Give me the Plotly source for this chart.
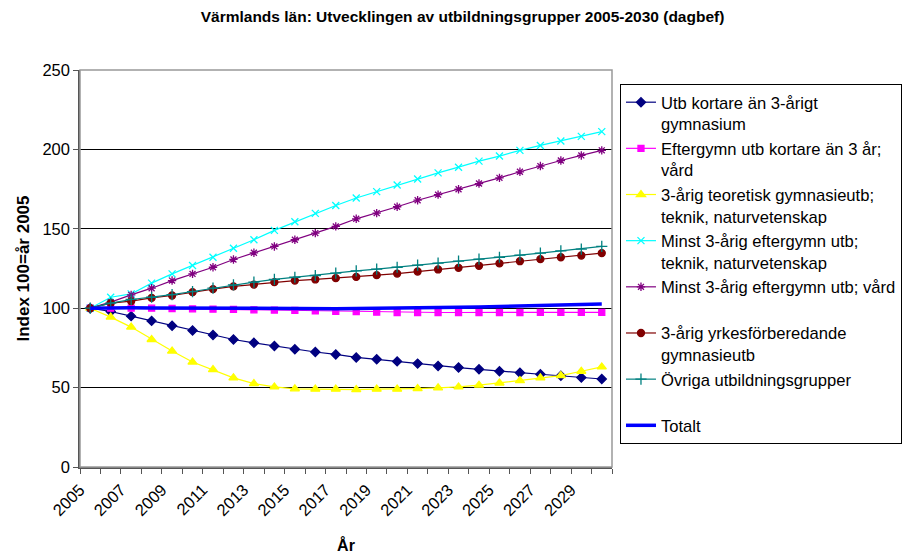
import plotly.graph_objects as go

years = list(range(2005, 2031))

utb_kort = [100, 97.9, 95, 92, 88.9, 86, 83.1, 80.3, 78.2, 76.2, 74.1, 72.4, 70.9,
            69, 67.8, 66.5, 65.1, 63.6, 62.6, 61.5, 60.3, 59.4, 58.4, 57.5, 56.3, 55.4]
efter_kort_vard = [100, 100, 100, 100, 99.8, 99.6, 99.4, 99.2, 99, 98.8, 98.6, 98.4, 98,
                   97.8, 97.5, 97.3, 97.3, 97.3, 97.3, 97.3, 97.3, 97.3, 97.4, 97.4, 97.4, 97.4]
teor_gymn = [100, 94.4, 88.1, 80.3, 73, 66.1, 61.3, 56.1, 52.5, 50.4, 49.2, 49, 49,
             48.7, 49, 49, 49.4, 49.8, 50.4, 51.5, 52.9, 54.4, 56.1, 57.5, 60.3, 63]
minst3_teknik = [100, 106.9, 109, 115.8, 121.6, 126.9, 132.1, 137.8, 143.1, 149, 154.4, 159.7, 164.7,
                 169.4, 173.4, 177.6, 181.4, 185.2, 188.8, 192.6, 195.8, 199.4, 202.5, 205.3, 208.2, 211.2]
minst3_vard = [100, 103.8, 108.4, 112.6, 117.4, 121.6, 125.8, 130.7, 134.9, 138.9, 143.1, 147.3, 151.5,
               156.3, 159.9, 163.9, 168, 171.5, 174.9, 178.5, 182.1, 185.9, 189.5, 193, 196.2, 199.4]
yrkes_gymn = [100, 103.2, 104.4, 106.5, 108, 110.1, 112, 113.7, 114.9, 116.4, 117.4, 118.1, 118.9,
              119.7, 120.8, 121.8, 123.1, 124.4, 125.4, 126.7, 128.2, 129.6, 130.9, 132.1, 133.2, 134.7]
ovriga = [100, 103.2, 105.5, 106.9, 108.6, 110.5, 112.6, 114.7, 116.4, 118.1, 119.5, 120.6, 122.1,
          123.5, 124.6, 125.8, 127.1, 128.4, 129.6, 130.9, 132.1, 133.4, 134.7, 136.1, 137.2, 138.9]
totalt = [100, 100.3, 100.3, 100.2, 100.1, 100, 100, 99.9, 99.8, 99.7, 99.7, 99.7, 99.7,
          99.8, 99.9, 100, 100.2, 100.4, 100.6, 100.8, 101.1, 101.4, 101.7, 102, 102.3, 102.7]

tick_labels = [str(y) for y in years[::2]]

FONT = "Arial, Liberation Sans, sans-serif"

series = [
    ("Utb kortare än 3-årigt<br>gymnasium", utb_kort, "#000080", "diamond", 7),
    ("Eftergymn utb kortare än 3 år;<br>vård", efter_kort_vard, "#FF00FF", "square", 6),
    ("3-årig teoretisk gymnasieutb;<br>teknik, naturvetenskap", teor_gymn, "#FFFF00", "triangle-up", 8),
    ("Minst 3-årig eftergymn utb;<br>teknik, naturvetenskap", minst3_teknik, "#00FFFF", "x-thin-open", 7),
    ("Minst 3-årig eftergymn utb; vård<br> ", minst3_vard, "#800080", "asterisk-open", 7),
    ("3-årig yrkesförberedande<br>gymnasieutb", yrkes_gymn, "#800000", "circle", 7),
    ("Övriga utbildningsgrupper<br> ", ovriga, "#008080", "cross-thin-open", 8),
]

fig = go.Figure()
for name, vals, color, sym, size in series:
    fig.add_trace(go.Scatter(
        x=years, y=vals, name=name, mode="lines+markers",
        line=dict(color=color, width=1.2),
        marker=dict(symbol=sym, size=size, color=color, line=dict(color=color, width=1.3)),
    ))

fig.add_trace(go.Scatter(
    x=years, y=totalt, name="Totalt", mode="lines",
    line=dict(color="#0000FF", width=3.5),
))

# category boundaries for ticks, labels on every other one
bounds = [y - 0.5 for y in years] + [years[-1] + 0.5]
btext = []
for i, b in enumerate(bounds):
    btext.append(tick_labels[i // 2] if i % 2 == 0 and i // 2 < len(tick_labels) else "")

# page body has an 8px margin, margins below compensate for it
fig.update_layout(
    width=922, height=555,
    paper_bgcolor="white", plot_bgcolor="white",
    margin=dict(l=72, r=318, t=62, b=96, autoexpand=False),
    font=dict(family=FONT, color="black"),
    title=dict(text="<b>Värmlands län: Utvecklingen av utbildningsgrupper 2005-2030 (dagbef)</b>",
               x=0.493, xref="container", xanchor="center", y=0.984, yanchor="middle",
               font=dict(size=15.5, family=FONT)),
    showlegend=True,
    legend=dict(x=1.015, y=0.965, xanchor="left", yanchor="top",
                bordercolor="black", borderwidth=1, bgcolor="white",
                font=dict(size=16.6, family=FONT), valign="top",
                traceorder="normal", itemwidth=30),
    xaxis=dict(
        range=[2004.5, 2030.5], tickmode="array", tickvals=bounds, ticktext=btext,
        tickangle=-45, ticks="outside", ticklen=5, tickcolor="#555555",
        showgrid=False, zeroline=False, showline=True, linecolor="#555555", linewidth=1.5,
        tickfont=dict(size=16.5, family=FONT), automargin=False,
        title=dict(text="<b>År</b>", font=dict(size=16, family=FONT), standoff=22),
    ),
    yaxis=dict(
        range=[0, 250], tickmode="array", tickvals=[0, 50, 100, 150, 200, 250],
        ticks="outside", ticklen=5, tickcolor="#555555",
        showgrid=True, gridcolor="black", gridwidth=1, zeroline=False,
        showline=True, linecolor="#555555", linewidth=1.5,
        tickfont=dict(size=16.5, family=FONT), automargin=False,
        title=dict(text="<b>Index 100=år 2005</b>", font=dict(size=17, family=FONT), standoff=8),
    ),
    shapes=[dict(type="rect", xref="paper", yref="paper", x0=0, x1=1, y0=0, y1=1,
                 line=dict(color="#999999", width=1.5), layer="above")],
)

fig.write_html("out.html")
